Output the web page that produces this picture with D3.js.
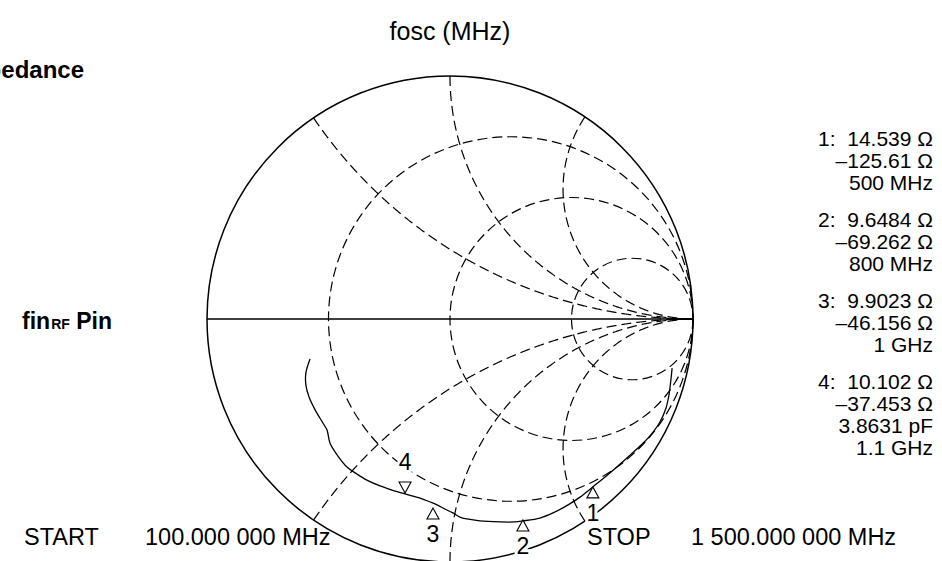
<!DOCTYPE html>
<html>
<head>
<meta charset="utf-8">
<script src="https://cdn.jsdelivr.net/npm/d3@7"></script>
<style>
  body { margin: 0; background: #fff; }
  text { font-family: "Liberation Sans", Arial, sans-serif; fill: #000; }
</style>
</head>
<body>
<div id="chart"></div>
<script>
var w = 942, h = 561;

// grid circles, normalised impedance
var resistances = [1/3, 1, 3];
var reactances = [0.53, 1, 1.87, -0.53, -1, -1.87];

// measured trace as reflection coefficient (re, im)
var traceRe = [-0.576, -0.593, -0.593, -0.580, -0.555, -0.523, -0.506, -0.494, -0.461, -0.424,
  -0.383, -0.342, -0.288, -0.239, -0.185, -0.123, -0.082, -0.053, -0.021, 0.012,
  0.041, 0.070, 0.123, 0.206, 0.267, 0.300, 0.370, 0.424, 0.486, 0.535,
  0.588, 0.658, 0.728, 0.782, 0.823, 0.864, 0.889, 0.901, 0.909, 0.914];
var traceIm = [-0.165, -0.222, -0.272, -0.321, -0.374, -0.428, -0.457, -0.510, -0.564, -0.609,
  -0.638, -0.663, -0.687, -0.704, -0.720, -0.737, -0.753, -0.765, -0.782, -0.798,
  -0.815, -0.823, -0.831, -0.835, -0.835, -0.831, -0.819, -0.798, -0.765, -0.733,
  -0.691, -0.634, -0.572, -0.523, -0.481, -0.424, -0.366, -0.313, -0.251, -0.202];

var markerIds = ['1', '2', '3', '4'];
var markerRe = [0.588, 0.300, -0.070, -0.185];
var markerIm = [-0.691, -0.827, -0.778, -0.716];
var markerUp = [true, true, true, false];

var readouts = [
  ['1:\u00A0 14.539 \u03A9', '\u2013125.61 \u03A9', '500 MHz'],
  ['2:\u00A0 9.6484 \u03A9', '\u201369.262 \u03A9', '800 MHz'],
  ['3:\u00A0 9.9023 \u03A9', '\u201346.156 \u03A9', '1 GHz'],
  ['4:\u00A0 10.102 \u03A9', '\u201337.453 \u03A9', '3.8631 pF', '1.1 GHz']
];

var title = 'fosc (MHz)';
var startLabel = 'START', startValue = '100.000 000 MHz';
var stopLabel = 'STOP', stopValue = '1 500.000 000 MHz';

var cx = 450, cy = 319, R = 243;

var x = d3.scaleLinear().domain([-1, 1]).range([cx - R, cx + R]);
var y = d3.scaleLinear().domain([-1, 1]).range([cy + R, cy - R]);

var svg = d3.select('#chart')
  .append('svg')
    .attr('width', w)
    .attr('height', h);

var line = d3.line()
  .x(function(d) { return x(d[0]); })
  .y(function(d) { return y(d[1]); });

// gamma for z = r + jX
function gamma(r, X) {
  var den = (r + 1) * (r + 1) + X * X;
  return [(r * r - 1 + X * X) / den, 2 * X / den];
}

var grid = svg.append('g')
  .attr('fill', 'none')
  .attr('stroke', '#000')
  .attr('stroke-width', 1.2)
  .attr('stroke-dasharray', '10,5');

grid.selectAll('circle')
  .data(resistances)
  .enter().append('circle')
    .attr('cx', function(r) { return x(r / (1 + r)); })
    .attr('cy', y(0))
    .attr('r', function(r) { return x(1 / (1 + r)) - x(0); });

grid.selectAll('path')
  .data(reactances)
  .enter().append('path')
    .attr('d', function(X) {
      var pts = d3.range(0, 0.998, 0.002).map(function(t) {
        return gamma(t / (1 - t), X);
      });
      pts.push([1, 0]);
      return line(pts);
    });

// outer circle and real axis
svg.append('circle')
  .attr('cx', x(0)).attr('cy', y(0))
  .attr('r', x(1) - x(0))
  .attr('fill', 'none')
  .attr('stroke', '#000')
  .attr('stroke-width', 1.5);

svg.append('line')
  .attr('x1', x(-1)).attr('x2', x(1))
  .attr('y1', y(0)).attr('y2', y(0))
  .attr('stroke', '#000')
  .attr('stroke-width', 1.5);

// trace
var trace = traceRe.map(function(d, i) { return [d, traceIm[i]]; });
svg.append('path')
  .datum(trace)
  .attr('fill', 'none')
  .attr('stroke', '#000')
  .attr('stroke-width', 1.3)
  .attr('d', line.curve(d3.curveCatmullRom));

// markers
var mk = svg.selectAll('.marker')
  .data(markerIds)
  .enter().append('g')
    .attr('class', 'marker')
    .attr('transform', function(d, i) {
      return 'translate(' + [x(markerRe[i]), y(markerIm[i])] + ')';
    });

mk.append('path')
  .attr('d', function(d, i) {
    return markerUp[i] ? 'M0,0L-6,11L6,11Z' : 'M0,0L-6,-11L6,-11Z';
  })
  .attr('fill', '#fff')
  .attr('stroke', '#000')
  .attr('stroke-width', 1.1);

mk.append('text')
  .attr('text-anchor', 'middle')
  .attr('y', function(d, i) { return markerUp[i] ? 34 : -23; })
  .style('font-size', '23px')
  .style('stroke', '#fff')
  .style('stroke-width', 6)
  .style('paint-order', 'stroke')
  .text(function(d) { return d; });

// readouts on the right
var ro = svg.selectAll('.readout')
  .data(readouts)
  .enter().append('text')
    .attr('class', 'readout')
    .attr('text-anchor', 'end')
    .style('font-size', '21px');

ro.selectAll('tspan')
  .data(function(d, g) { return d.map(function(s, k) { return {s: s, g: g, k: k}; }); })
  .enter().append('tspan')
    .attr('x', 933)
    .attr('y', function(d) { return 146 + d.g * 81 + d.k * 22; })
    .text(function(d) { return d.s; });

// texts
svg.append('text')
  .attr('x', 450).attr('y', 40)
  .attr('text-anchor', 'middle')
  .style('font-size', '25px')
  .text(title);

svg.append('text')
  .attr('x', 84).attr('y', 78)
  .attr('text-anchor', 'end')
  .style('font-size', '24px')
  .style('font-weight', 'bold')
  .text('Impedance');

var fin = svg.append('text')
  .attr('x', 112).attr('y', 329)
  .attr('text-anchor', 'end')
  .style('font-size', '23px')
  .style('font-weight', 'bold');
fin.append('tspan').text('fin');
fin.append('tspan').style('font-size', '14px').attr('dx', 1).text('RF');
fin.append('tspan').text(' Pin');

var bottom = svg.append('g')
  .style('font-size', '23.5px');
bottom.append('text').attr('x', 24).attr('y', 545).text(startLabel);
bottom.append('text').attr('x', 145).attr('y', 545).text(startValue);
bottom.append('text').attr('x', 587).attr('y', 545).text(stopLabel);
bottom.append('text').attr('x', 691).attr('y', 545).text(stopValue);
</script>
</body>
</html>
